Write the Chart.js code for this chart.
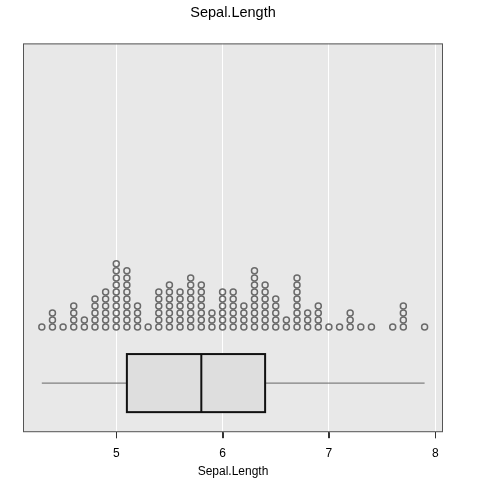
<!DOCTYPE html>
<html>
<head>
<meta charset="utf-8">
<script src="https://cdn.jsdelivr.net/npm/chart.js@4/dist/chart.umd.min.js"></script>
<style>
  html, body { margin: 0; padding: 0; background: #fff; }
  #wrap { width: 480px; height: 480px; }
</style>
</head>
<body>
<div id="wrap"><canvas id="chart"></canvas></div>
<script>
// Sepal length values and how many flowers share each one
const VALUES = [4.3,4.4,4.5,4.6,4.7,4.8,4.9,5.0,5.1,5.2,5.3,5.4,5.5,5.6,5.7,5.8,5.9,6.0,6.1,6.2,6.3,6.4,6.5,6.6,6.7,6.8,6.9,7.0,7.1,7.2,7.3,7.4,7.6,7.7,7.9];
const COUNTS = [1,3,1,4,2,5,6,10,9,4,1,6,7,6,8,7,3,6,6,4,9,7,5,2,8,3,4,1,1,3,1,1,1,4,1];
// box stats: min, q1, median, q3, max
const BOX_STATS = [4.3, 5.1, 5.8, 6.4, 7.9];
const X_TICKS = [5, 6, 7, 8];

const COLORS = {
  panel:  '#e8e8e8',
  box:    '#dedede',
  frame:  '#555555',
  dot:    '#6a6a6a',
  whisk:  '#666666',
  text:   '#000000',
};

// stacked dot positions (y = stack index)
const dots = [];
VALUES.forEach((v, i) => {
  for (let k = 0; k < COUNTS[i]; k++) dots.push({ x: v, y: k });
});

// box drawn through the chart's own scales
const BOX_Y = -8, BOX_HALF = 4.14;
const boxPlugin = {
  id: 'boxPlot',
  beforeDraw(chart) {
    const { ctx, chartArea: a } = chart;
    ctx.save();
    ctx.fillStyle = COLORS.panel;
    ctx.fillRect(a.left, a.top, a.right - a.left, a.bottom - a.top);
    ctx.restore();
  },
  afterDatasetsDraw(chart) {
    const { ctx, chartArea: a, scales: { x, y } } = chart;
    const [mn, q1, md, q3, mx] = BOX_STATS.map(v => x.getPixelForValue(v));
    const yc = y.getPixelForValue(BOX_Y);
    const yt = y.getPixelForValue(BOX_Y + BOX_HALF);
    const yb = y.getPixelForValue(BOX_Y - BOX_HALF);
    ctx.save();
    ctx.strokeStyle = COLORS.whisk;
    ctx.lineWidth = 1;
    ctx.beginPath();
    ctx.moveTo(mn, yc); ctx.lineTo(q1, yc);
    ctx.moveTo(q3, yc); ctx.lineTo(mx, yc);
    ctx.stroke();
    ctx.fillStyle = COLORS.box;
    ctx.fillRect(q1, yt, q3 - q1, yb - yt);
    ctx.strokeStyle = '#111';
    ctx.lineWidth = 2;
    ctx.strokeRect(q1, yt, q3 - q1, yb - yt);
    ctx.beginPath();
    ctx.moveTo(md, yt); ctx.lineTo(md, yb);
    ctx.stroke();
    // panel frame
    ctx.strokeStyle = COLORS.frame;
    ctx.lineWidth = 1;
    ctx.strokeRect(a.left + 0.5, a.top + 0.5, a.right - a.left - 1, a.bottom - a.top - 1);
    // tick marks under the frame
    ctx.strokeStyle = '#333';
    ctx.beginPath();
    X_TICKS.forEach(v => {
      const px = Math.round(x.getPixelForValue(v)) + 0.5;
      ctx.moveTo(px, a.bottom);
      ctx.lineTo(px, a.bottom + 6);
    });
    ctx.stroke();
    ctx.restore();
  }
};

Chart.defaults.font.family = "'Liberation Sans', Arial, sans-serif";
Chart.defaults.color = COLORS.text;

new Chart(document.getElementById('chart'), {
  type: 'scatter',
  data: {
    datasets: [{
      data: dots,
      pointRadius: 3,
      pointHoverRadius: 3,
      pointBorderWidth: 1.5,
      borderColor: COLORS.dot,
      backgroundColor: 'rgba(0,0,0,0)',
    }]
  },
  options: {
    responsive: true,
    maintainAspectRatio: false,
    animation: false,
    events: [],
    layout: { padding: { left: 23, right: 37, top: 0, bottom: 0 } },
    plugins: {
      legend: { display: false },
      tooltip: { enabled: false },
      title: {
        display: true,
        text: 'Sepal.Length',
        color: COLORS.text,
        font: { size: 14.5, weight: 'normal' },
        padding: { top: 4, bottom: 22 },
      },
    },
    scales: {
      x: {
        type: 'linear',
        min: 4.123,
        max: 8.073,
        afterBuildTicks: axis => { axis.ticks = X_TICKS.map(v => ({ value: v })); },
        grid: { color: '#ffffff', lineWidth: 1, tickColor: '#333333', tickWidth: 1, tickLength: 6 },
        border: { display: false },
        ticks: { color: COLORS.text, font: { size: 12 }, padding: 8, maxRotation: 0 },
        title: {
          display: true,
          text: 'Sepal.Length',
          color: COLORS.text,
          font: { size: 12 },
          padding: { top: -4, bottom: 1 },
        },
      },
      y: {
        display: false,
        min: -15,
        max: 40.43,
      },
    },
  },
  plugins: [boxPlugin],
});
</script>
</body>
</html>
